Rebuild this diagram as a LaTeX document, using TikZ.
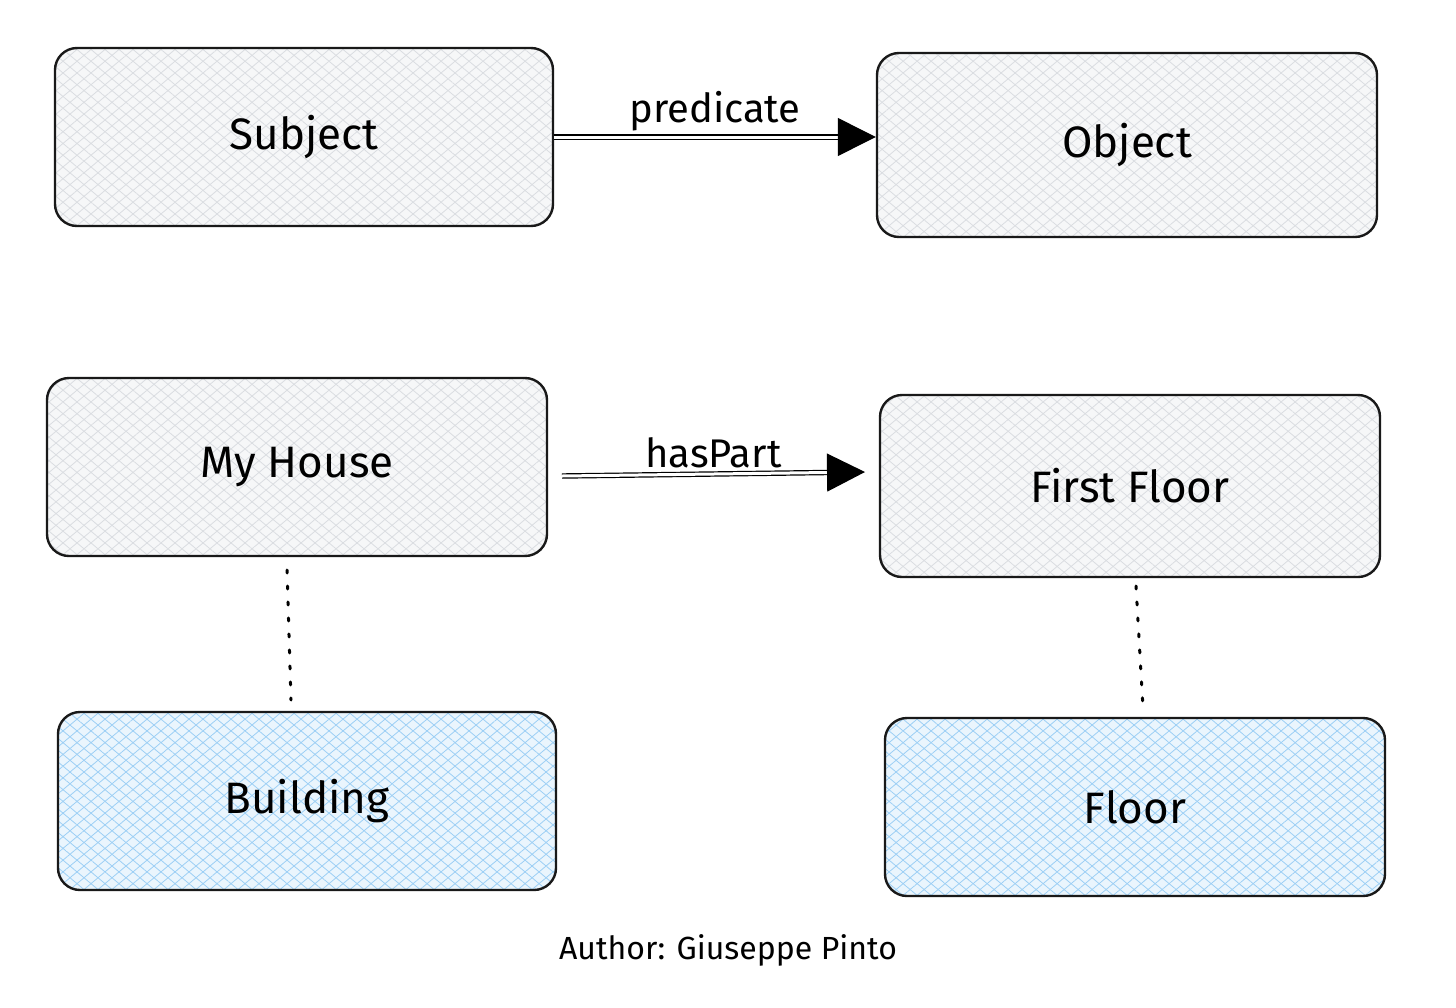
\documentclass[tikz,border=0pt]{standalone}
\usepackage{fontspec}
\setmainfont{Fira Sans}
\usetikzlibrary{patterns.meta,arrows.meta}
\definecolor{gfill}{HTML}{F6F7F8}
\definecolor{bfill}{HTML}{EAF5FD}
\definecolor{bline}{HTML}{9CCFF5}
\definecolor{gline}{HTML}{DADDE1}
\begin{document}
\begin{tikzpicture}[x=1pt,y=-1pt,
 box/.style={draw=black!90,line width=2.4pt,rounded corners=22pt,minimum width=#1,minimum height=178pt,
   font=\fontsize{44}{48}\selectfont},
 hatch/.style={preaction={fill=#1},
   preaction={pattern={Lines[angle=40,distance=9pt,line width=0.8pt]},pattern color=hcol},
   preaction={pattern={Lines[angle=-40,distance=9pt,line width=0.8pt]},pattern color=hcol}},
 gbox/.style={box=#1,hatch=gfill,/utils/exec=\colorlet{hcol}{gline}},
 bbox/.style={box=#1,hatch=bfill,/utils/exec=\colorlet{hcol}{bline}},
 rel/.style={double,double distance=3pt,line width=1.2pt,-{Triangle[length=38pt,width=38pt]}},
 dot/.style={line width=3pt,dash pattern=on 3pt off 13pt,line cap=round}]
\useasboundingbox (0,0) rectangle (1456,1007);
\node[gbox=498pt] (s) at (304,137) {Subject};
\node[gbox=500pt,minimum height=184pt] (o) at (1127,145) {Object};
\node[gbox=500pt] (h) at (297,467) {My House};
\node[gbox=500pt,minimum height=182pt] (f) at (1130,486) {First Floor};
\node[bbox=498pt] (b) at (307,801) {Building};
\node[bbox=500pt] (fl) at (1135,807) {Floor};
\draw[rel] (s.east |- 0,137) -- node[above=2pt,font=\fontsize{40}{44}\selectfont]{predicate} (o.west |- 0,137);
\draw[rel] (562,476) coordinate (h1) -- node[above=2pt,font=\fontsize{40}{44}\selectfont]{hasPart} (865,472) coordinate (f1);
\draw[dot] (287,570) -- (291,700);
\draw[dot] (1136,586) -- (1143,708);
\node[font=\fontsize{32}{36}\selectfont] (a) at (728,950) {Author: Giuseppe Pinto};
\end{tikzpicture}
\end{document}
